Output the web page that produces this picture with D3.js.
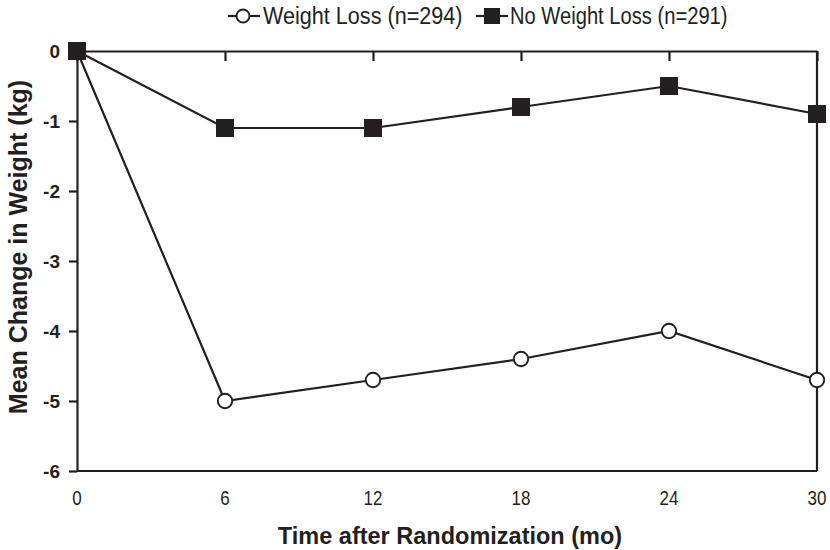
<!DOCTYPE html>
<html>
<head>
<meta charset="utf-8">
<script src="https://cdn.jsdelivr.net/npm/d3@7"></script>
<style>
  html, body { margin: 0; padding: 0; background: #fff; }
  svg { display: block; }
  .narrow { font-family: "Liberation Sans Narrow", "Arial Narrow", "Liberation Sans", Arial, sans-serif; }
  .bold { font-family: "Liberation Sans", Arial, sans-serif; font-weight: bold; }
</style>
</head>
<body>
<svg id="chart" width="830" height="550"></svg>
<script>
// Months after randomization
const months = [0, 6, 12, 18, 24, 30];
// Mean change in weight (kg) per group
const weightLoss = [0, -5.0, -4.7, -4.4, -4.0, -4.7];
const noWeightLoss = [0, -1.1, -1.1, -0.8, -0.5, -0.9];
// Axis ticks
const xTicks = [0, 6, 12, 18, 24, 30];
const yTicks = [0, -1, -2, -3, -4, -5, -6];
const legendLabels = ["Weight Loss (n=294)", "No Weight Loss (n=291)"];

const ink = "#231f20";
const sw = 2.2;
const svg = d3.select("#chart");
const m = { left: 77, right: 817, top: 51, bottom: 471 };

const x = d3.scaleLinear().domain([0, 30]).range([m.left, m.right]);
const y = d3.scaleLinear().domain([0, -6]).range([m.top, m.bottom]);

// Frame: bottom and right edges
svg.append("line").attr("x1", m.left).attr("x2", m.right).attr("y1", m.bottom).attr("y2", m.bottom)
  .attr("stroke", ink).attr("stroke-width", sw);
svg.append("line").attr("x1", m.right).attr("x2", m.right).attr("y1", m.top).attr("y2", m.bottom)
  .attr("stroke", ink).attr("stroke-width", sw);

// Top axis at zero with inward ticks
const xTop = svg.append("g").attr("transform", `translate(0,${m.top})`)
  .call(d3.axisBottom(x).tickValues(xTicks).tickSize(10).tickSizeOuter(0).tickFormat(""));
xTop.select(".domain").attr("stroke", ink).attr("stroke-width", sw);
xTop.selectAll(".tick line").attr("stroke", ink).attr("stroke-width", sw);

// X tick labels beneath the plot (condensed)
svg.append("g").selectAll("text").data(xTicks).join("text")
  .attr("class", "narrow")
  .attr("transform", d => `translate(${x(d)},505) scale(0.85,1)`)
  .attr("text-anchor", "middle")
  .style("font-size", "20px").attr("fill", ink)
  .text(d => d);

// Left axis
const yAx = svg.append("g").attr("transform", `translate(${m.left},0)`)
  .call(d3.axisLeft(y).tickValues(yTicks).tickSize(8).tickSizeOuter(0).tickPadding(9)
    .tickFormat(d => d === 0 ? "0" : "-" + Math.abs(d)));
yAx.attr("font-size", null).attr("font-family", null);
yAx.select(".domain").attr("stroke", ink).attr("stroke-width", sw);
yAx.selectAll(".tick line").attr("stroke", ink).attr("stroke-width", sw);
yAx.selectAll(".tick text").attr("class", "bold").style("font-size", "19px").attr("fill", ink);

// Axis titles
svg.append("text").attr("class", "bold")
  .attr("x", 450).attr("y", 544).attr("text-anchor", "middle")
  .style("font-size", "23.5px").attr("fill", ink)
  .text("Time after Randomization (mo)");
svg.append("text").attr("class", "bold")
  .attr("transform", "translate(27,247) rotate(-90)")
  .attr("text-anchor", "middle")
  .style("font-size", "25px").attr("fill", ink)
  .text("Mean Change in Weight (kg)");

const line = d3.line().x((d, i) => x(months[i])).y(d => y(d));

// Weight loss series (open circles)
svg.append("path").datum(weightLoss).attr("d", line)
  .attr("fill", "none").attr("stroke", ink).attr("stroke-width", sw);
svg.append("g").selectAll("circle").data(weightLoss).join("circle")
  .attr("cx", (d, i) => x(months[i])).attr("cy", d => y(d))
  .attr("r", 7.2).attr("fill", "#fff").attr("stroke", ink).attr("stroke-width", 1.9);

// No weight loss series (filled squares), drawn on top
svg.append("path").datum(noWeightLoss).attr("d", line)
  .attr("fill", "none").attr("stroke", ink).attr("stroke-width", sw);
const sq = 18;
svg.append("g").selectAll("rect").data(noWeightLoss).join("rect")
  .attr("x", (d, i) => x(months[i]) - sq / 2).attr("y", d => y(d) - sq / 2)
  .attr("width", sq).attr("height", sq).attr("fill", ink);

// Legend
const lg = svg.append("g");
lg.append("line").attr("x1", 228).attr("x2", 260).attr("y1", 16).attr("y2", 16)
  .attr("stroke", ink).attr("stroke-width", sw);
lg.append("circle").attr("cx", 243).attr("cy", 16).attr("r", 6.5)
  .attr("fill", "#fff").attr("stroke", ink).attr("stroke-width", 1.9);
lg.append("text").attr("class", "narrow")
  .attr("transform", "translate(263,24) scale(0.9,1)")
  .style("font-size", "24px").attr("fill", ink).text(legendLabels[0]);

lg.append("line").attr("x1", 476).attr("x2", 508).attr("y1", 16).attr("y2", 16)
  .attr("stroke", ink).attr("stroke-width", sw);
lg.append("rect").attr("x", 484).attr("y", 8).attr("width", 16).attr("height", 16).attr("fill", ink);
lg.append("text").attr("class", "narrow")
  .attr("transform", "translate(510,24) scale(0.84,1)")
  .style("font-size", "24px").attr("fill", ink).text(legendLabels[1]);
</script>
</body>
</html>
